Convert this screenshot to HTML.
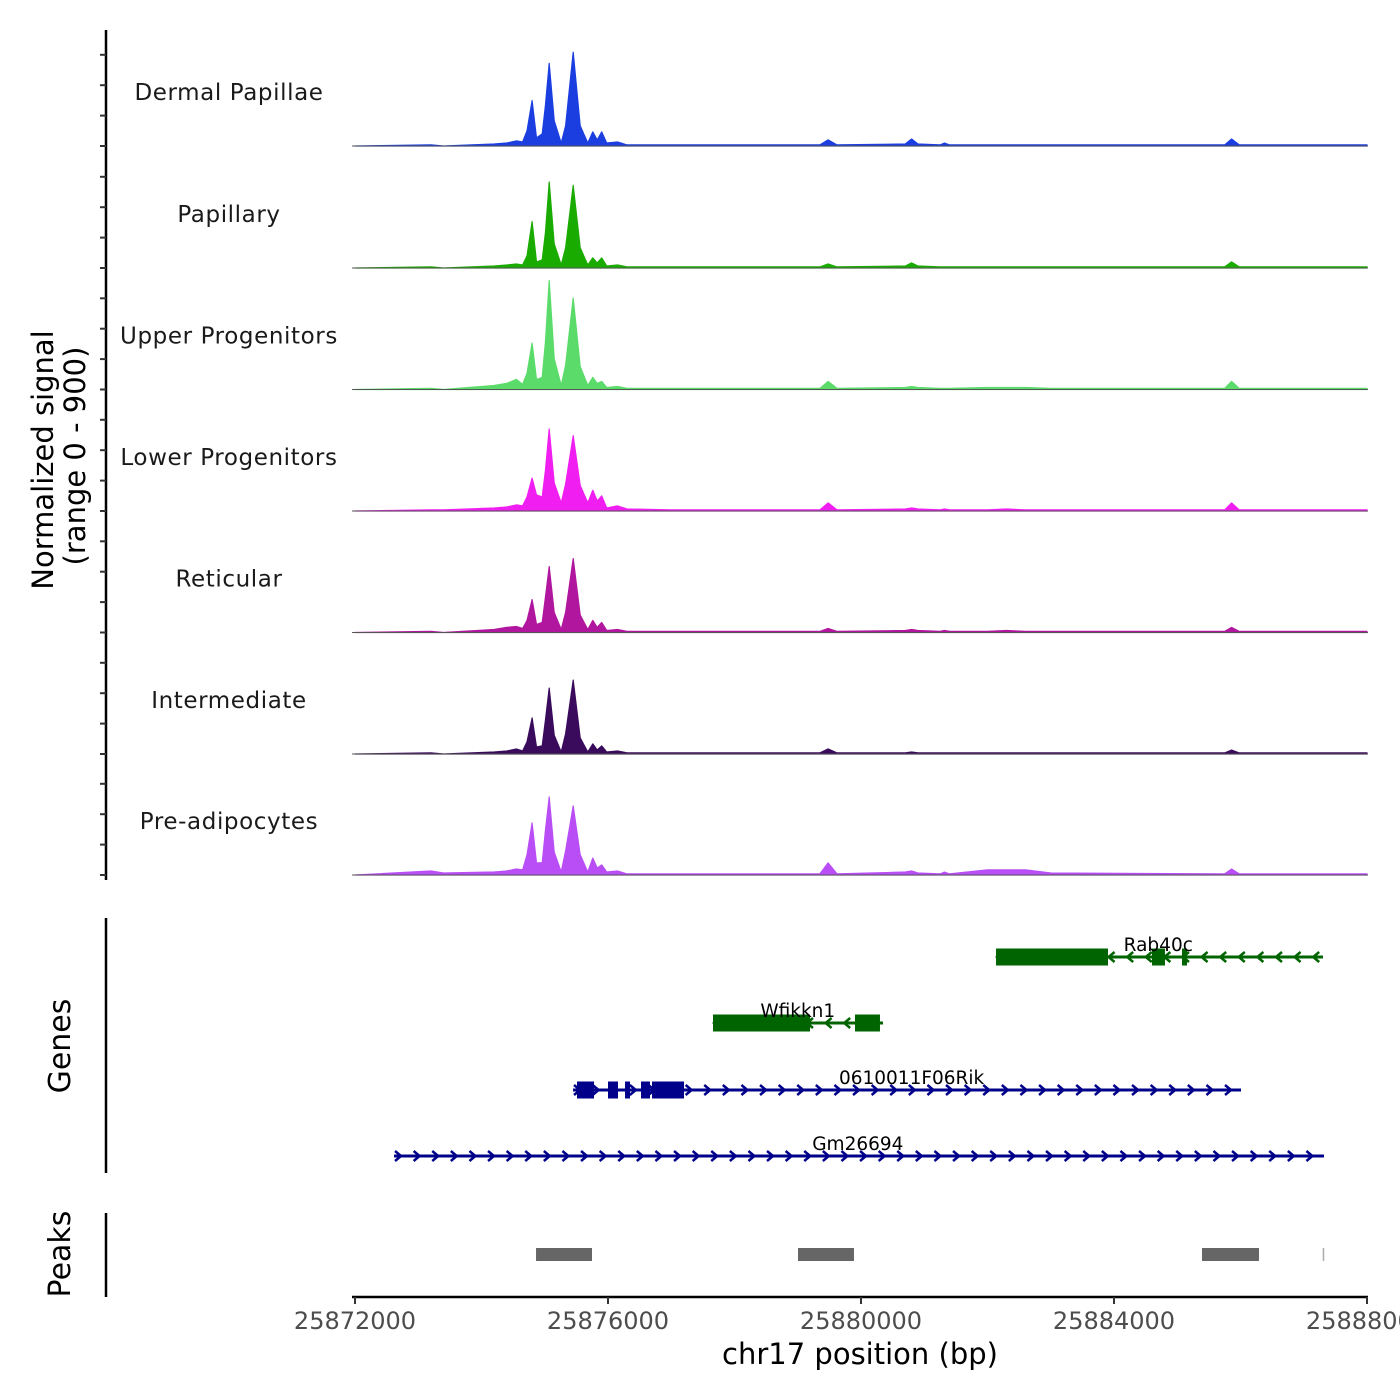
<!DOCTYPE html>
<html><head><meta charset="utf-8"><style>
html,body{margin:0;padding:0;background:#fff;}
svg{display:block;font-family:"DejaVu Sans","Liberation Sans",sans-serif;}
</style></head><body>
<svg id="chart" width="1400" height="1400" viewBox="0 0 1400 1400" xmlns="http://www.w3.org/2000/svg">
<g id="tracks"></g>
<g id="genes"></g>
<g id="peaks"></g>
<g id="axes"></g>
<text transform="translate(53,460) rotate(-90)" text-anchor="middle" font-size="29" fill="#000">Normalized signal</text>
<text transform="translate(85,456) rotate(-90)" text-anchor="middle" font-size="29" fill="#000">(range 0 - 900)</text>
<text transform="translate(70,1046) rotate(-90)" text-anchor="middle" font-size="30" fill="#000">Genes</text>
<text transform="translate(70,1254) rotate(-90)" text-anchor="middle" font-size="30" fill="#000">Peaks</text>
<text x="860" y="1364" text-anchor="middle" font-size="29" fill="#000">chr17 position (bp)</text>
</svg>
<script>
const START = 25872000;
const positions = [0,1200,1400,2200,2400,2550,2650,2720,2800,2870,2960,3010,3070,3150,3260,3330,3450,3560,3680,3760,3830,3900,3980,4150,4300,5000,7350,7480,7620,8700,8800,8900,9250,9320,9400,10000,10300,10600,11000,13750,13860,13980,16000];
const trackNames = ["Dermal Papillae","Papillary","Upper Progenitors","Lower Progenitors","Reticular","Intermediate","Pre-adipocytes"];
const trackColors = ["#1a3ee0","#1aab00","#5adb6a","#f01ef0","#b0169e","#3a0b5c","#b94ef6"];
const dermal = [0,8,0,15,22,38,30,112,338,60,90,300,615,188,22,150,698,150,22,105,45,105,22,30,8,8,8,45,8,15,52,15,8,22,8,8,8,8,8,8,52,8,8];
const papillary = [0,8,0,15,22,30,22,90,345,45,60,260,640,180,22,150,615,150,22,75,38,75,15,22,8,8,8,30,8,15,38,15,8,8,8,8,8,8,8,8,45,8,8];
const upper = [0,8,0,30,45,75,38,120,345,75,90,350,810,230,30,180,680,170,30,90,45,60,15,22,8,8,8,60,8,15,22,15,8,8,8,15,15,15,8,8,60,8,8];
const lower = [0,8,8,22,30,45,38,105,245,120,105,300,610,210,60,200,560,190,60,155,75,112,22,38,15,8,8,60,8,15,22,15,8,15,8,8,15,8,8,8,60,8,8];
const reticular = [0,8,0,22,38,45,30,90,245,60,75,260,490,150,22,150,550,130,22,90,38,75,15,22,8,8,8,30,8,15,22,15,8,15,8,8,15,8,8,8,38,8,8];
const intermediate = [0,8,0,15,22,38,22,90,268,52,60,250,490,140,15,150,550,120,15,75,30,60,15,22,8,8,8,38,8,8,15,8,8,8,8,8,8,8,8,8,30,8,8];
const preadipo = [0,30,15,22,30,45,38,150,387,90,90,330,580,170,22,180,513,150,22,126,52,75,22,30,8,8,8,90,8,22,30,15,8,22,8,38,38,38,15,8,45,8,8];
const series = [dermal,papillary,upper,lower,reticular,intermediate,preadipo];
const xTicks = [25872000,25876000,25880000,25884000,25888000];
const xTickLabels = ["25872000","25876000","25880000","25884000","25888000"];
const geneNames = ["Rab40c","Wfikkn1","0610011F06Rik","Gm26694"];
const geneStrands = [-1,-1,1,1];
const geneStarts = [25882134,25877660,25875447,25872617];
const geneEnds = [25887304,25880348,25886008,25887320];
const geneLabelPos = [25884700,25879000,25880800,25879950];
const geneExons = [
  [[25882134,25883905],[25884601,25884806],[25885075,25885154]],
  [[25877660,25879194],[25879905,25880300]],
  [[25875510,25875779],[25876000,25876158],[25876269,25876348],[25876522,25876664],[25876696,25877202]],
  []
];
const peakStarts = [25874862,25879004,25885391,25887300];
const peakEnds = [25875747,25879889,25886292,25887320];

const NS = "http://www.w3.org/2000/svg";
function mk(tag, attrs, parent){const e=document.createElementNS(NS,tag);for(const k in attrs)e.setAttribute(k,attrs[k]);parent.appendChild(e);return e;}
const X0=355, PXPERBP=0.063250;
function xs(bp){return X0+(bp-START)*PXPERBP;}
const baselines=[146,268,389.5,511,632.5,754,875];
const TRACK_H=121;
function ys(v,i){return baselines[i]-v/900*TRACK_H;}

const tracks=document.getElementById('tracks');
series.forEach((vals,i)=>{
  let d="M"+xs(START+positions[0])+","+baselines[i];
  vals.forEach((v,j)=>{d+=" L"+xs(START+positions[j]).toFixed(1)+","+ys(v,i).toFixed(1);});
  d+=" L"+xs(START+positions[positions.length-1])+","+baselines[i]+" Z";
  const p=mk('path',{d:d,fill:trackColors[i],stroke:trackColors[i],'stroke-width':1.2,'stroke-linejoin':'round'},tracks);
  
  
  const l=mk('line',{x1:352,x2:1368,y1:baselines[i],y2:baselines[i],stroke:'#555','stroke-width':1},tracks);
  
  
  const t=mk('text',{x:229,y:baselines[i]-46,'text-anchor':'middle','font-size':23,fill:'#1a1a1a','letter-spacing':'0.6'},tracks);
  t.textContent=trackNames[i];
  
  
});

const axes=document.getElementById('axes');
let a=mk('line',{x1:106,x2:106,y1:30,y2:880,stroke:'#000','stroke-width':2.5},axes);


baselines.forEach(b=>{for(let k=0;k<4;k++){const y=b-k*30.4;const t=mk('line',{x1:100,x2:106,y1:y,y2:y,stroke:'#333','stroke-width':2},axes);
  
  }});
a=mk('line',{x1:106,x2:106,y1:918,y2:1173,stroke:'#000','stroke-width':2.5},axes);


a=mk('line',{x1:106,x2:106,y1:1213,y2:1297,stroke:'#000','stroke-width':2.5},axes);


a=mk('line',{x1:352,x2:1368,y1:1297,y2:1297,stroke:'#000','stroke-width':2.5},axes);


xTicks.forEach((v,i)=>{
  const t=mk('line',{x1:xs(v),x2:xs(v),y1:1297,y2:1304,stroke:'#333','stroke-width':2},axes);
  
  
  const l=mk('text',{x:xs(v),y:1329,'text-anchor':'middle','font-size':24,fill:'#4d4d4d'},axes);
  l.textContent=xTickLabels[i];
  
  
});

const genes=document.getElementById('genes');
const rowY=[957,1023,1090,1156];
geneNames.forEach((n,i)=>{
  const col=geneStrands[i]<0?'#006400':'#00008b';
  const y=rowY[i];
  const x1=xs(geneStarts[i]), x2=xs(geneEnds[i]);
  const g=mk('g',{},genes);
  
  
  mk('line',{x1:x1,x2:x2,y1:y,y2:y,stroke:col,'stroke-width':3},g);
  for(let x=x1+4;x<=x2;x+=18.6){
    const s=geneStrands[i];
    mk('polyline',{points:`${x-3*s},${y-5} ${x+3*s},${y} ${x-3*s},${y+5}`,fill:'none',stroke:col,'stroke-width':2.5},g);
  }
  geneExons[i].forEach(e=>{mk('rect',{x:xs(e[0]),y:y-8.5,width:xs(e[1])-xs(e[0]),height:17,fill:col},g);});
  const t=mk('text',{x:xs(geneLabelPos[i]),y:y-6,'text-anchor':'middle','font-size':18.5,fill:'#000'},g);
  t.textContent=n;
  
  
});

const peaks=document.getElementById('peaks');
peakStarts.forEach((s,i)=>{
  const w=xs(peakEnds[i])-xs(s);
  const r=mk('rect',{x:xs(s),y:1248,width:Math.max(w,1.5),height:13,fill:w<3?'#aaa':'#666'},peaks);
  
  
});
</script>
</body></html>
